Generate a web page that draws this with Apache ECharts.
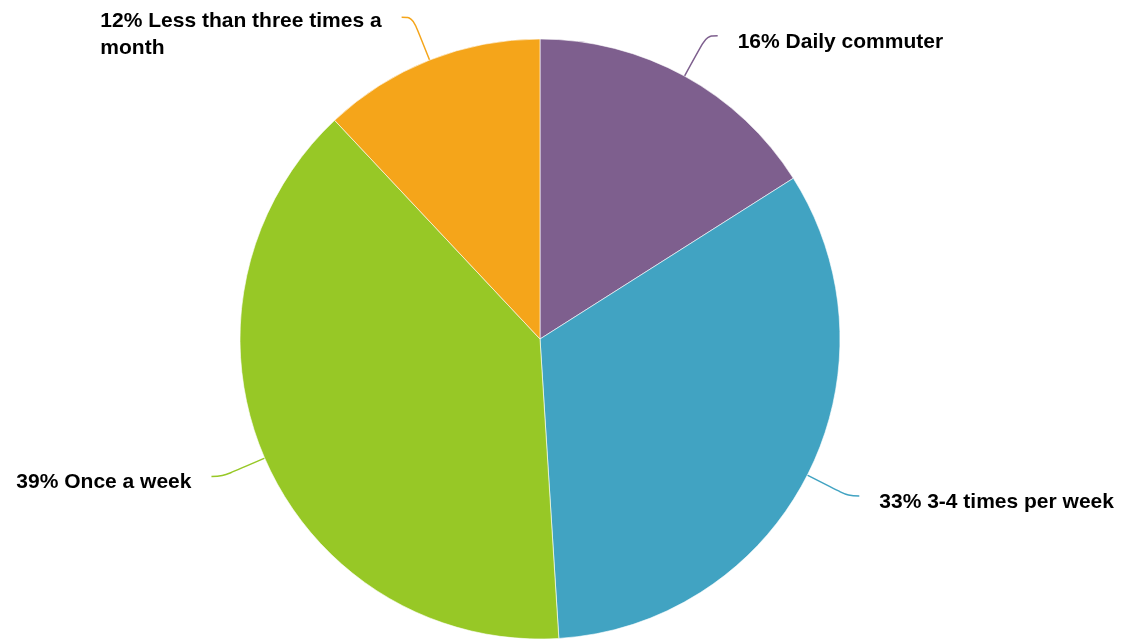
<!DOCTYPE html>
<html>
<head>
<meta charset="utf-8">
<script src="https://cdn.jsdelivr.net/npm/echarts@6/dist/echarts.min.js"></script>
<style>
html,body{margin:0;padding:0;background:#fff;}
#chart{width:1126px;height:642px;}
</style>
</head>
<body>
<div id="chart"></div>
<script>
const categories = ['Daily commuter', '3-4 times per week', 'Once a week', 'Less than three times a month'];
const values = [16, 33, 39, 12];
const labelTexts = ['16% Daily commuter', '33% 3-4 times per week', '39% Once a week', '12% Less than three times a\nmonth'];
const colors = ['#7E5F8E', '#41A3C2', '#97C826', '#F5A51A'];

const chart = echarts.init(document.getElementById('chart'));
const data = categories.map((c, i) => {
  const twoLine = labelTexts[i].indexOf('\n') >= 0;
  return {
    name: c,
    value: values[i],
    itemStyle: { color: colors[i] },
    label: { padding: twoLine ? [35, 0, 0, 0] : [12, 0, 0, 0] },
    labelLine: { lineStyle: { color: colors[i] } }
  };
});

chart.setOption({
  animation: false,
  backgroundColor: '#fff',
  series: [{
    type: 'pie',
    center: [540, 339],
    radius: [0, 300],
    startAngle: 90,
    clockwise: true,
    avoidLabelOverlap: false,
    data: data,
    itemStyle: { borderColor: '#ffffff', borderWidth: 0.6 },
    label: {
      show: true,
      position: 'outside',
      distanceToLabelLine: 20,
      formatter: function (p) {
        return labelTexts[p.dataIndex].split('\n').map(s => '{t|' + s + '}').join('\n');
      },
      rich: {
        t: {
          fontFamily: 'Liberation Sans, Arial, sans-serif',
          fontWeight: 'bold',
          fontSize: 21,
          lineHeight: 27,
          color: '#000',
          align: 'left'
        }
      }
    },
    labelLine: {
      show: true,
      length: 46,
      length2: 11,
      smooth: 0.4,
      lineStyle: { width: 1.5 }
    },
    emphasis: { disabled: true }
  }]
});
</script>
</body>
</html>
